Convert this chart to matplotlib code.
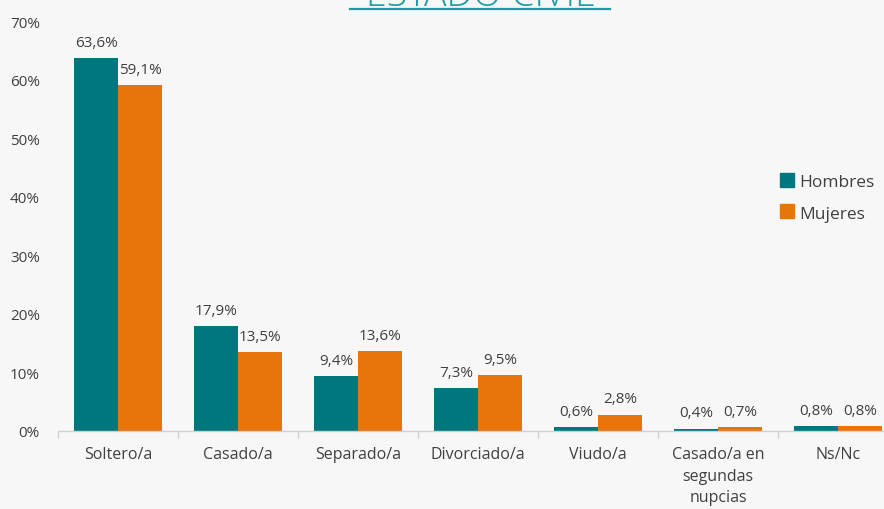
import matplotlib
matplotlib.use("Agg")
import matplotlib.pyplot as plt
import numpy as np
from matplotlib.lines import Line2D

categories = ["Soltero/a", "Casado/a", "Separado/a", "Divorciado/a", "Viudo/a",
              "Casado/a en\nsegundas\nnupcias", "Ns/Nc"]
hombres = [63.6, 17.9, 9.4, 7.3, 0.6, 0.4, 0.8]
mujeres = [59.1, 13.5, 13.6, 9.5, 2.8, 0.7, 0.8]
series_names = ["Hombres", "Mujeres"]
yticks = [0, 10, 20, 30, 40, 50, 60, 70]

teal = "#00767F"
orange = "#E8740C"
bg = "#F7F7F7"
txt = "#404040"

plt.rcParams["font.family"] = ["Open Sans", "DejaVu Sans"]

W, H = 884, 510
fig = plt.figure(figsize=(W / 100, H / 100), dpi=100, facecolor=bg)
ax = fig.add_axes([58 / W, 78 / H, 840 / W, 410 / H], facecolor=bg)

x = np.arange(len(categories))
bw = 44 / 120
b1 = ax.bar(x - bw / 2, hombres, bw, color=teal, label=series_names[0])
b2 = ax.bar(x + bw / 2, mujeres, bw, color=orange, label=series_names[1])

for bars, vals in ((b1, hombres), (b2, mujeres)):
    for rect, v in zip(bars, vals):
        ax.annotate(f"{v:.1f}%".replace(".", ","),
                    (rect.get_x() + rect.get_width() / 2, v),
                    xytext=(0, 6), textcoords="offset points",
                    ha="center", va="bottom", fontsize=11, color=txt)

ax.set_xlim(-0.5, len(categories) - 0.5)
ax.set_ylim(0, 70)
ax.set_yticks(yticks)
ax.set_yticklabels([f"{t}%" for t in yticks], fontsize=11, color=txt)
ax.set_xticks(x)
ax.set_xticklabels(categories, fontsize=11.5, color=txt, linespacing=1.45)
ax.set_xticks(np.arange(len(categories) + 1) - 0.5, minor=True)
ax.tick_params(axis="x", which="major", length=0, pad=11)
ax.tick_params(axis="x", which="minor", length=5, color="#D0D0D0", width=1)
ax.tick_params(axis="y", length=0, pad=13)
for s in ("top", "right", "left"):
    ax.spines[s].set_visible(False)
ax.spines["bottom"].set_color("#D0D0D0")
ax.spines["bottom"].set_linewidth(1)

handles = [Line2D([], [], marker="s", linestyle="none", markersize=10,
                  markerfacecolor=c, markeredgecolor=c) for c in (teal, orange)]
fig.legend(handles, series_names, loc="upper left",
           bbox_to_anchor=(761 / W, 1 - 159 / H), frameon=False,
           fontsize=12.5, labelcolor=txt, handletextpad=0.1, labelspacing=0.9,
           handlelength=1.2)

# title sits at the top edge, underlined
title_color = "#1C9AA3"
fig.text(480 / W, 1 - 6 / H, "ESTADO CIVIL", ha="center", va="baseline",
         fontsize=27, color=title_color, fontweight="light")
fig.add_artist(Line2D([350 / W, 610 / W], [1 - 10 / H, 1 - 10 / H],
                      transform=fig.transFigure, color=title_color, lw=1.6))

fig.savefig("out.png", dpi=100, facecolor=bg)
